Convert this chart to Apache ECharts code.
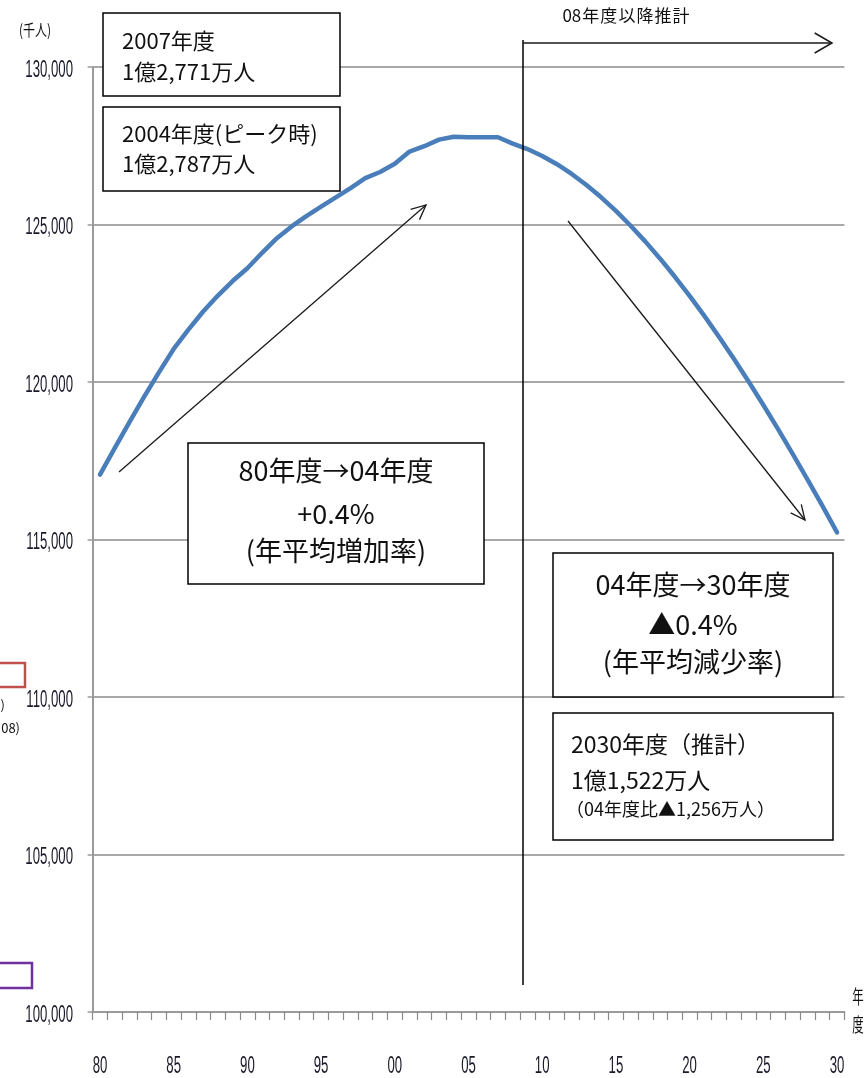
<!DOCTYPE html>
<html>
<head>
<meta charset="utf-8">
<script src="https://cdn.jsdelivr.net/npm/echarts@6/dist/echarts.min.js"></script>
<style>
  html, body { margin: 0; padding: 0; background: #fff; }
  #chart { width: 865px; height: 1078px; }
</style>
</head>
<body>
<div id="chart"></div>
<script>
// 総人口の推移（千人）: 1980〜2007年度は実績, 2008年度以降は推計
const fiscalYears = [
  '1980','1981','1982','1983','1984','1985','1986','1987','1988','1989',
  '1990','1991','1992','1993','1994','1995','1996','1997','1998','1999',
  '2000','2001','2002','2003','2004','2005','2006','2007','2008','2009',
  '2010','2011','2012','2013','2014','2015','2016','2017','2018','2019',
  '2020','2021','2022','2023','2024','2025','2026','2027','2028','2029',
  '2030'
];
const population = [
  117060, 117902, 118728, 119536, 120305, 121049, 121660, 122239, 122745, 123205,
  123611, 124101, 124567, 124938, 125265, 125570, 125859, 126157, 126472, 126667,
  126926, 127316, 127486, 127694, 127787, 127768, 127770, 127771, 127568, 127395,
  127176, 126913, 126605, 126254, 125862, 125430, 124961, 124456, 123915, 123341,
  122735, 122097, 121430, 120735, 120015, 119270, 118502, 117713, 116904, 116076,
  115224
];
// 目盛ラベル（横軸は5年ごと）
const xTickYears = ['1980', '1985', '1990', '1995', '2000', '2005', '2010', '2015', '2020', '2025', '2030'];
const xTickLabels = ['80', '85', '90', '95', '00', '05', '10', '15', '20', '25', '30'];
const yTickValues = [100000, 105000, 110000, 115000, 120000, 125000, 130000];
const yTickLabels = ['100,000', '105,000', '110,000', '115,000', '120,000', '125,000', '130,000'];
const yMin = 100000, yMax = 130000, yStep = 5000;

const CJK = '"Noto Sans CJK JP", "Noto Sans", sans-serif';
const SANS = '"Liberation Sans", Arial, sans-serif';

function box(x, y, w, h) {
  return { type: 'rect', z: 10, shape: { x: x, y: y, width: w, height: h },
           style: { fill: '#fff', stroke: '#000', lineWidth: 1.5 } };
}
function txt(text, x, y, size, align, opts) {
  opts = opts || {};
  return { type: 'text', z: 11, x: x, y: y, scaleX: opts.scaleX || 1,
           style: { text: text, fontSize: size, fontFamily: opts.family || CJK, fill: opts.fill || '#111',
                    align: align || 'left', verticalAlign: 'middle',
                    textAlign: align || 'left', textVerticalAlign: 'middle' } };
}
function arrow(x1, y1, x2, y2, len, deg, width) {
  const a = Math.atan2(y2 - y1, x2 - x1);
  const p = deg * Math.PI / 180;
  const arm1 = [x2 - len * Math.cos(a - p), y2 - len * Math.sin(a - p)];
  const arm2 = [x2 - len * Math.cos(a + p), y2 - len * Math.sin(a + p)];
  const st = { stroke: '#1a1a1a', lineWidth: width, fill: null };
  return [
    { type: 'line', z: 9, shape: { x1: x1, y1: y1, x2: x2, y2: y2 }, style: st },
    { type: 'polyline', z: 9, shape: { points: [arm1, [x2, y2], arm2] }, style: st }
  ];
}

const annotations = [].concat(
  // 推計区分線と矢印
  [{ type: 'line', z: 9, shape: { x1: 523, y1: 40, x2: 523, y2: 985 },
     style: { stroke: '#000', lineWidth: 1.5 } }],
  arrow(523, 43, 832, 43, 20, 30, 1.5),
  [txt('08\u200a年\u200a度\u200a以\u200a降\u200a推\u200a計', 626, 16, 17, 'center')],
  // 増減の傾向を示す矢印
  arrow(119, 472, 426, 205, 16, 25, 1.3),
  arrow(568, 221, 805, 520, 16, 25, 1.3),
  // 注記ボックス
  [box(103, 13, 237, 83),
   txt('2007年度', 122, 41, 22, 'left'),
   txt('1億2,771万人', 122, 72, 22, 'left'),
   box(103, 107, 237, 84),
   txt('2004年度(ピーク時)', 122, 134, 22, 'left'),
   txt('1億2,787万人', 122, 164, 22, 'left'),
   box(188, 443, 296, 141),
   txt('80年度→04年度', 336, 471, 27, 'center'),
   txt('+0.4%', 336, 514, 27, 'center'),
   txt('(年平均増加率)', 336, 551, 27, 'center'),
   box(553, 553, 280, 144),
   txt('04年度→30年度', 693, 585, 27, 'center'),
   txt('▲0.4%', 693, 625, 27, 'center'),
   txt('(年平均減少率)', 693, 662, 27, 'center'),
   box(553, 713, 280, 127),
   txt('2030年度（推計）', 571, 744, 23, 'left'),
   txt('1億1,522万人', 571, 780, 23, 'left'),
   txt('（04年度比▲1,256万人）', 566, 809, 18, 'left'),
   // 単位・軸名
   txt('(千人)', 35, 30, 16, 'center', { scaleX: 0.75 }),
   txt('年', 858, 997, 19, 'center', { scaleX: 0.6 }),
   txt('度', 858, 1025, 19, 'center', { scaleX: 0.6 }),
   // 左端の凡例片
   { type: 'rect', z: 10, shape: { x: -6, y: 663, width: 31, height: 24 },
     style: { fill: null, stroke: '#c0504d', lineWidth: 2.5 } },
   txt(')', 5, 705, 13, 'right'),
   txt('08)', 20, 728, 13, 'right'),
   { type: 'rect', z: 10, shape: { x: -6, y: 963, width: 38, height: 25 },
     style: { fill: null, stroke: '#7030a0', lineWidth: 2.5 } }
  ]
);

const chart = echarts.init(document.getElementById('chart'), null, { renderer: 'canvas' });
chart.setOption({
  backgroundColor: '#fff',
  animation: false,
  grid: { left: 92.6, right: 20.6, top: 67, bottom: 66, containLabel: false, outerBoundsMode: 'none' },
  xAxis: {
    type: 'category',
    data: fiscalYears,
    boundaryGap: true,
    axisLine: { lineStyle: { color: '#9a9a9a', width: 2 } },
    axisTick: { show: true, interval: 0, alignWithLabel: false, length: 8,
                lineStyle: { color: '#8a8a8a', width: 1.2 } },
    axisLabel: { show: false },
    splitLine: { show: false }
  },
  yAxis: {
    type: 'value',
    min: yMin, max: yMax, interval: yStep,
    axisLine: { show: true, lineStyle: { color: '#9a9a9a', width: 2 } },
    axisTick: { show: true, length: 5, lineStyle: { color: '#9a9a9a', width: 1.5 } },
    axisLabel: { show: false },
    splitLine: { show: true, lineStyle: { color: '#a8a8a8', width: 2 } }
  },
  series: [{
    type: 'line',
    data: population,
    showSymbol: false,
    smooth: false,
    lineStyle: { color: '#4a7ebb', width: 4.5, join: 'round', cap: 'round' },
    z: 5
  }]
});

// 縦長の細い目盛文字: 軸の座標変換で位置を求めて配置する
const tickTexts = [];
yTickValues.forEach(function (v, i) {
  const py = chart.convertToPixel({ yAxisIndex: 0 }, v);
  tickTexts.push(txt(yTickLabels[i], 73, py + 3, 24, 'right', { family: SANS, scaleX: 0.55, fill: '#1a1a2a' }));
});
xTickYears.forEach(function (yr, i) {
  const px = chart.convertToPixel({ xAxisIndex: 0 }, yr);
  tickTexts.push(txt(xTickLabels[i], px, 1066, 24, 'center', { family: SANS, scaleX: 0.55, fill: '#1a1a2a' }));
});

chart.setOption({ graphic: annotations.concat(tickTexts) });
</script>
</body>
</html>
